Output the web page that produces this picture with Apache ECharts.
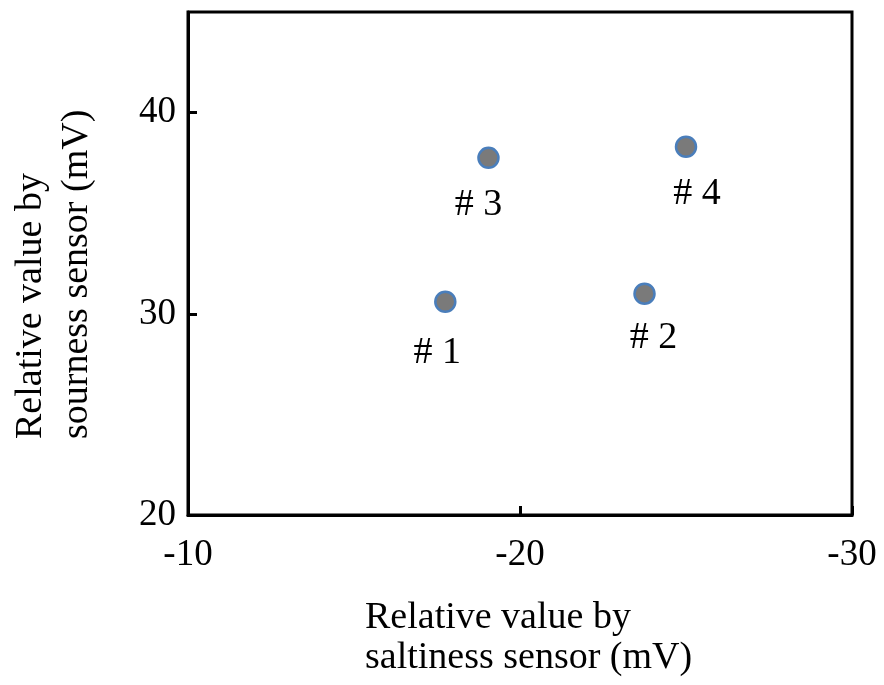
<!DOCTYPE html>
<html>
<head>
<meta charset="utf-8">
<script src="https://cdn.jsdelivr.net/npm/echarts@6/dist/echarts.min.js"></script>
<style>
html,body{margin:0;padding:0;background:#fff;}
#chart{width:884px;height:685px;}
</style>
</head>
<body>
<div id="chart"></div>
<script>
const sampleLabels = ['# 1', '# 2', '# 3', '# 4'];
const saltiness = [-17.75, -23.75, -19.05, -25.0];
const sourness = [30.6, 31.0, 37.75, 38.3];
const xTicks = [-10, -20, -30];
const yTicks = [20, 30, 40];
const xTitle = 'Relative value by\nsaltiness sensor (mV)';
const yTitle = 'Relative value by\nsourness sensor (mV)';

const labelOffsets = [[-8, 4], [9, -3], [-10, 0], [11, 0]];
const FONT = '"Liberation Serif", "Times New Roman", serif';

const chart = echarts.init(document.getElementById('chart'), null, {renderer: 'canvas'});
const data = saltiness.map((x, i) => ({
  value: [x, sourness[i]],
  name: sampleLabels[i],
  label: {offset: labelOffsets[i]}
}));

chart.setOption({
  animation: false,
  backgroundColor: '#ffffff',
  grid: {left: 188, right: 32, top: 12, bottom: 170, show: true, borderColor: '#000', borderWidth: 3, backgroundColor: 'transparent'},
  xAxis: {
    type: 'value', inverse: true, min: -30, max: -10, interval: 10,
    splitLine: {show: false},
    axisLine: {show: true, lineStyle: {color: '#000', width: 3}},
    axisTick: {show: true, inside: true, length: 9, lineStyle: {color: '#000', width: 3}, customValues: xTicks},
    axisLabel: {color: '#000', fontFamily: FONT, fontSize: 37, margin: 22, customValues: xTicks}
  },
  yAxis: {
    type: 'value', min: 20, max: 45, interval: 10,
    splitLine: {show: false},
    axisLine: {show: true, lineStyle: {color: '#000', width: 3}},
    axisTick: {show: true, inside: true, length: 9, lineStyle: {color: '#000', width: 3}, customValues: yTicks},
    axisLabel: {color: '#000', fontFamily: FONT, fontSize: 37, margin: 12, customValues: yTicks}
  },
  graphic: [
    {type: 'text', left: 365, top: 598, style: {text: xTitle, font: '38px ' + FONT, fill: '#000', textAlign: 'left', lineHeight: 40}},
    {type: 'text', x: 8, y: 439, rotation: Math.PI / 2, style: {text: yTitle, font: '38px ' + FONT, fill: '#000', textAlign: 'left', textVerticalAlign: 'top', lineHeight: 46}}
  ],
  series: [{
    type: 'scatter',
    data: data,
    symbol: 'circle',
    symbolSize: 20,
    itemStyle: {color: '#7a7a7a', borderColor: '#4a7ebb', borderWidth: 2.5, opacity: 1},
    label: {show: true, position: 'bottom', distance: 17, formatter: p => p.name, color: '#000', fontFamily: FONT, fontSize: 38}
  }]
});
</script>
</body>
</html>
